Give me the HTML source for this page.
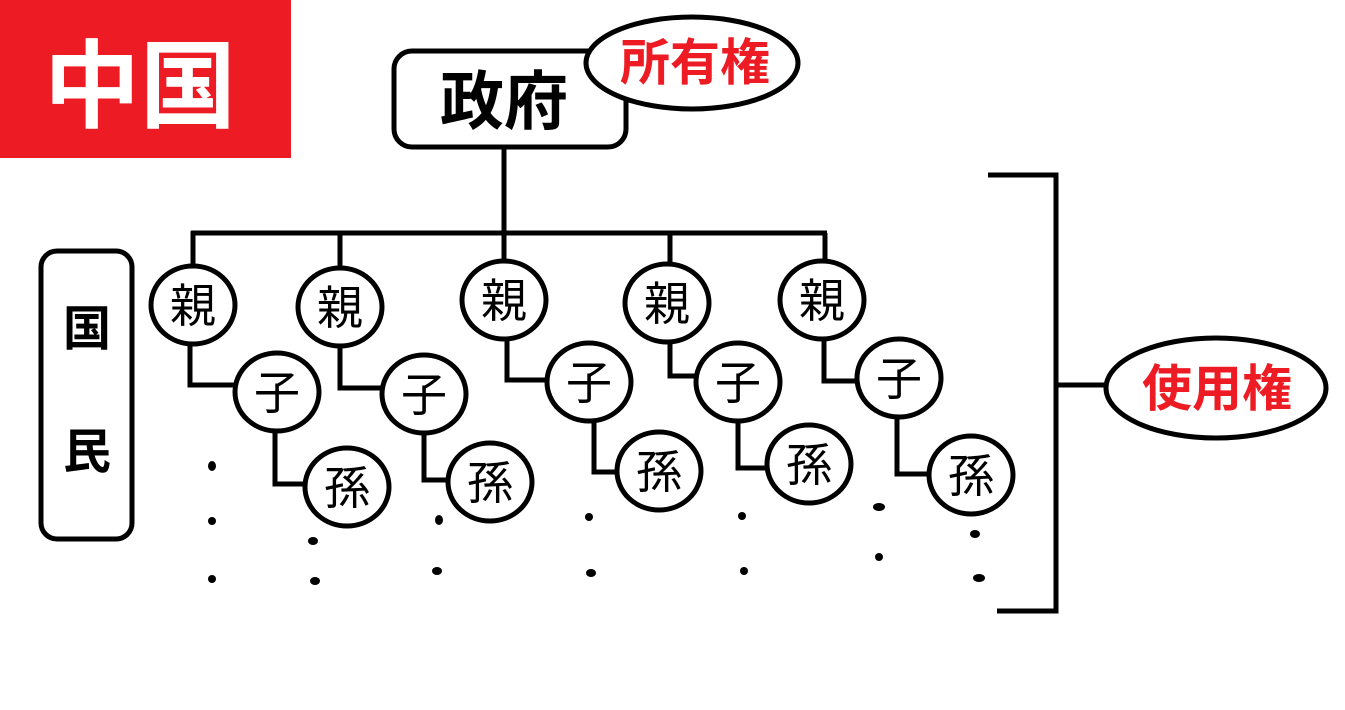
<!DOCTYPE html>
<html><head><meta charset="utf-8"><style>
html,body{margin:0;padding:0;background:#fff;}
svg{display:block}
text{font-family:"Liberation Sans","Noto Sans CJK JP",sans-serif;}
</style></head><body>
<svg width="1345" height="710" viewBox="0 0 1345 710" xmlns="http://www.w3.org/2000/svg">
<rect x="0" y="0" width="291" height="158" fill="#ed1c24"/>
<text x="140" y="120" font-size="96" font-weight="bold" fill="#fff" text-anchor="middle">中国</text>

<g fill="none" stroke="#000" stroke-width="5">
<rect x="394" y="51" width="232" height="96" rx="18"/>
<line x1="504" y1="147" x2="504" y2="233"/>
<line x1="191" y1="233" x2="827" y2="233"/>
<line x1="193" y1="231" x2="193" y2="264"/>
<line x1="340" y1="233" x2="340" y2="266"/>
<line x1="504" y1="233" x2="504" y2="260"/>
<line x1="670" y1="233" x2="670" y2="265"/>
<line x1="825" y1="233" x2="825" y2="262"/>
<rect x="41" y="251" width="91" height="288" rx="16"/>
<polyline points="988,175 1056,175 1056,611 997,611"/>
<line x1="1056" y1="385" x2="1106" y2="385"/>
<polyline points="190,344 190,385 235,385"/>
<polyline points="275,430 275,484 306,484"/>
<polyline points="340,345 340,388 382,388"/>
<polyline points="424,432 424,480 446,480"/>
<polyline points="507,338 507,380 548,380"/>
<polyline points="594,422 594,472 618,472"/>
<polyline points="670,342 670,376 697,376"/>
<polyline points="738,422 738,468 770,468"/>
<polyline points="824,338 824,381 856,381"/>
<polyline points="897,418 897,474 930,474"/>
</g>
<g fill="#fff" stroke="#000" stroke-width="5">
<ellipse cx="692" cy="63" rx="106" ry="46"/>
<ellipse cx="1216" cy="388" rx="110" ry="50"/>
<ellipse cx="193" cy="305" rx="42" ry="39"/>
<ellipse cx="277" cy="392" rx="42" ry="39"/>
<ellipse cx="347" cy="487" rx="42" ry="39"/>
<ellipse cx="340" cy="307" rx="42" ry="39"/>
<ellipse cx="424" cy="394" rx="42" ry="39"/>
<ellipse cx="490" cy="482" rx="42" ry="39"/>
<ellipse cx="504" cy="300" rx="42" ry="39"/>
<ellipse cx="589" cy="382" rx="42" ry="39"/>
<ellipse cx="659" cy="471" rx="42" ry="39"/>
<ellipse cx="667" cy="303" rx="42" ry="39"/>
<ellipse cx="738" cy="382" rx="42" ry="39"/>
<ellipse cx="809" cy="464" rx="42" ry="39"/>
<ellipse cx="822" cy="300" rx="42" ry="39"/>
<ellipse cx="899" cy="378" rx="42" ry="39"/>
<ellipse cx="971" cy="475" rx="42" ry="39"/>
</g>
<text x="504" y="124" font-size="64" font-weight="bold" text-anchor="middle">政府</text>
<text x="695" y="80" font-size="50" font-weight="bold" fill="#ed1c24" text-anchor="middle">所有権</text>
<text x="1217" y="406" font-size="50" font-weight="bold" fill="#ed1c24" text-anchor="middle">使用権</text>
<text x="87" y="345" font-size="48" font-weight="bold" text-anchor="middle">国</text>
<text x="87" y="468" font-size="48" font-weight="bold" text-anchor="middle">民</text>
<g font-size="46" text-anchor="middle">
<text x="193" y="322">親</text><text x="277" y="409">子</text><text x="347" y="504">孫</text>
<text x="340" y="324">親</text><text x="424" y="411">子</text><text x="490" y="499">孫</text>
<text x="504" y="317">親</text><text x="589" y="399">子</text><text x="659" y="488">孫</text>
<text x="667" y="320">親</text><text x="738" y="399">子</text><text x="809" y="481">孫</text>
<text x="822" y="317">親</text><text x="899" y="395">子</text><text x="971" y="492">孫</text>
</g>
<g fill="#000">
<ellipse cx="212" cy="466" rx="4" ry="5"/><ellipse cx="212" cy="521" rx="4" ry="4"/><ellipse cx="212" cy="579" rx="4" ry="4"/>
<ellipse cx="313" cy="541" rx="5" ry="4"/><ellipse cx="315" cy="581" rx="5" ry="4"/>
<ellipse cx="439" cy="520" rx="4" ry="5"/><ellipse cx="437" cy="571" rx="5" ry="4"/>
<ellipse cx="589" cy="517" rx="4" ry="4"/><ellipse cx="591" cy="573" rx="5" ry="4"/>
<ellipse cx="742" cy="516" rx="4" ry="4"/><ellipse cx="744" cy="571" rx="4" ry="4"/>
<ellipse cx="879" cy="507" rx="6" ry="4"/><ellipse cx="879" cy="557" rx="4" ry="4"/>
<ellipse cx="975" cy="534" rx="5" ry="4"/><ellipse cx="979" cy="578" rx="6" ry="4"/>
</g>
</svg>
</body></html>
